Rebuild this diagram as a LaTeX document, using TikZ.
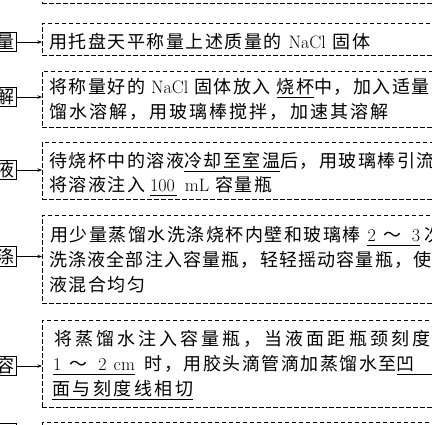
\documentclass[tikz,border=0pt]{standalone}
\usepackage{fontspec}
\usetikzlibrary{arrows.meta}
\newfontfamily\cjk[LetterSpace=8.3]{Noto Sans CJK SC}
\newfontfamily\cjka[LetterSpace=11.5]{Noto Sans CJK SC}
\newfontfamily\cjkb[LetterSpace=6.5]{Noto Sans CJK SC}
\newfontfamily\cjkw[LetterSpace=17]{Noto Sans CJK SC}
\newfontfamily\cjkm[LetterSpace=14]{Noto Sans CJK SC}
\newfontfamily\cjkn{Noto Sans CJK SC}
\newcommand\myul[1]{\leavevmode\setbox0\hbox{#1}\rlap{\rule[-4pt]{\wd0}{0.9pt}}\box0}
\newcommand\lb[1]{\makebox[40pt][r]{#1}}
\tikzset{
  dbox/.style={draw, dash pattern=on 4.5pt off 2.5pt, line width=0.8pt, inner sep=0pt, minimum width=430pt, anchor=north west},
  lbox/.style={draw, line width=0.9pt, inner xsep=1.2pt, inner ysep=0pt, minimum height=19.5pt, font=\cjkn\fontsize{18}{18}\selectfont},
  txt/.style={anchor=base west, inner sep=0pt, font=\fontsize{18}{25}\selectfont},
  arr/.style={line width=0.8pt, -{Stealth[length=4.5pt,width=3.5pt]}}
}
\begin{document}
\begin{tikzpicture}[x=1pt,y=-1pt]
\useasboundingbox (0,0) rectangle (432,425);
\clip (0,0) rectangle (432,425);
% dashed boxes
\node[dbox, minimum height=43pt] (b0) at (42,-40) {};
\node[dbox, minimum height=32pt] (b1) at (42,23) {};
\node[dbox, minimum height=56pt] (b2) at (42,71) {};
\node[dbox, minimum height=57pt] (b3) at (42,142) {};
\node[dbox, minimum height=88pt] (b4) at (42,215) {};
\node[dbox, minimum height=87pt] (b5) at (42,320) {};
\node[dbox, minimum height=38pt] (b6) at (42,422) {};
% left boxes
\node[lbox, anchor=east] (l1) at (16.5,42) {\lb{量}};
\node[lbox, anchor=east] (l2) at (16.5,97) {\lb{解}};
\node[lbox, anchor=east] (l3) at (16.5,170) {\lb{液}};
\node[lbox, anchor=east] (l4) at (16.5,256.5) {\lb{涤}};
\node[lbox, anchor=east] (l5) at (16.5,366) {\lb{容}};
\node[lbox, anchor=north east] (l6) at (16.5,423) {\lb{}};
% arrows
\draw[arr] (l1.east) -- (l1.east -| b1.west);
\draw[arr] (l2.east) -- (l2.east -| b2.west);
\draw[arr] (l3.east) -- (l3.east -| b3.west);
\draw[arr] (l4.east) -- (l4.east -| b4.west);
\draw[arr] (l5.east) -- (l5.east -| b5.west);
% texts
\node[txt] (t1) at (49,49) {{\cjk 用托盘天平称量上述质量的}\hspace{7pt}NaCl\hspace{7pt}{\cjk 固体}};
\node[txt] (t2a) at (49,94) {{\cjk 将称量好的}\hspace{6pt}NaCl\hspace{6pt}{\cjk 固体放入}\hspace{6pt}\myul{\cjk 烧杯}{\cjk 中，加入适量蒸}};
\node[txt] (t2b) at (49,119) {{\cjka 馏水溶解，用玻璃棒搅拌，加速其溶解}};
\node[txt] (t3a) at (49,168) {{\cjk 待烧杯中的溶液}\myul{\cjk 冷却至室温}{\cjk 后，用玻璃棒引流}};
\node[txt] (t3b) at (49,192) {{\cjk 将溶液注入}\hspace{5pt}\myul{100\hspace{2pt}}\hspace{8pt}mL\hspace{6pt}{\cjk 容量瓶}};
\node[txt] (t4a) at (50,242) {{\cjk 用少量蒸馏水洗涤烧杯内壁和玻璃棒}\hspace{6pt}\myul{\hspace{1pt}2\hspace{8pt}{\cjkn ～}\hspace{10pt}3}\hspace{4pt}{\cjk 次}};
\node[txt] (t4b) at (49,267) {{\cjkb 洗涤液全部注入容量瓶，轻轻摇动容量瓶，使溶}};
\node[txt] (t4c) at (49,292) {{\cjk 液混合均匀}};
\node[txt] (t5a) at (54,346) {{\cjkw 将蒸馏水注入容量瓶，当液面距瓶颈刻度}};
\node[txt] (t5b) at (53,371) {\myul{1\hspace{8pt}{\cjkn ～}\hspace{11pt}2\hspace{7pt}cm}\hspace{10pt}{\cjk 时，用胶头滴管滴加蒸馏水至}\myul{\cjk 凹\quad}};
\node[txt] (t5c) at (52,396) {\myul{\cjkm 面与刻度线相切}};
\end{tikzpicture}
\end{document}
